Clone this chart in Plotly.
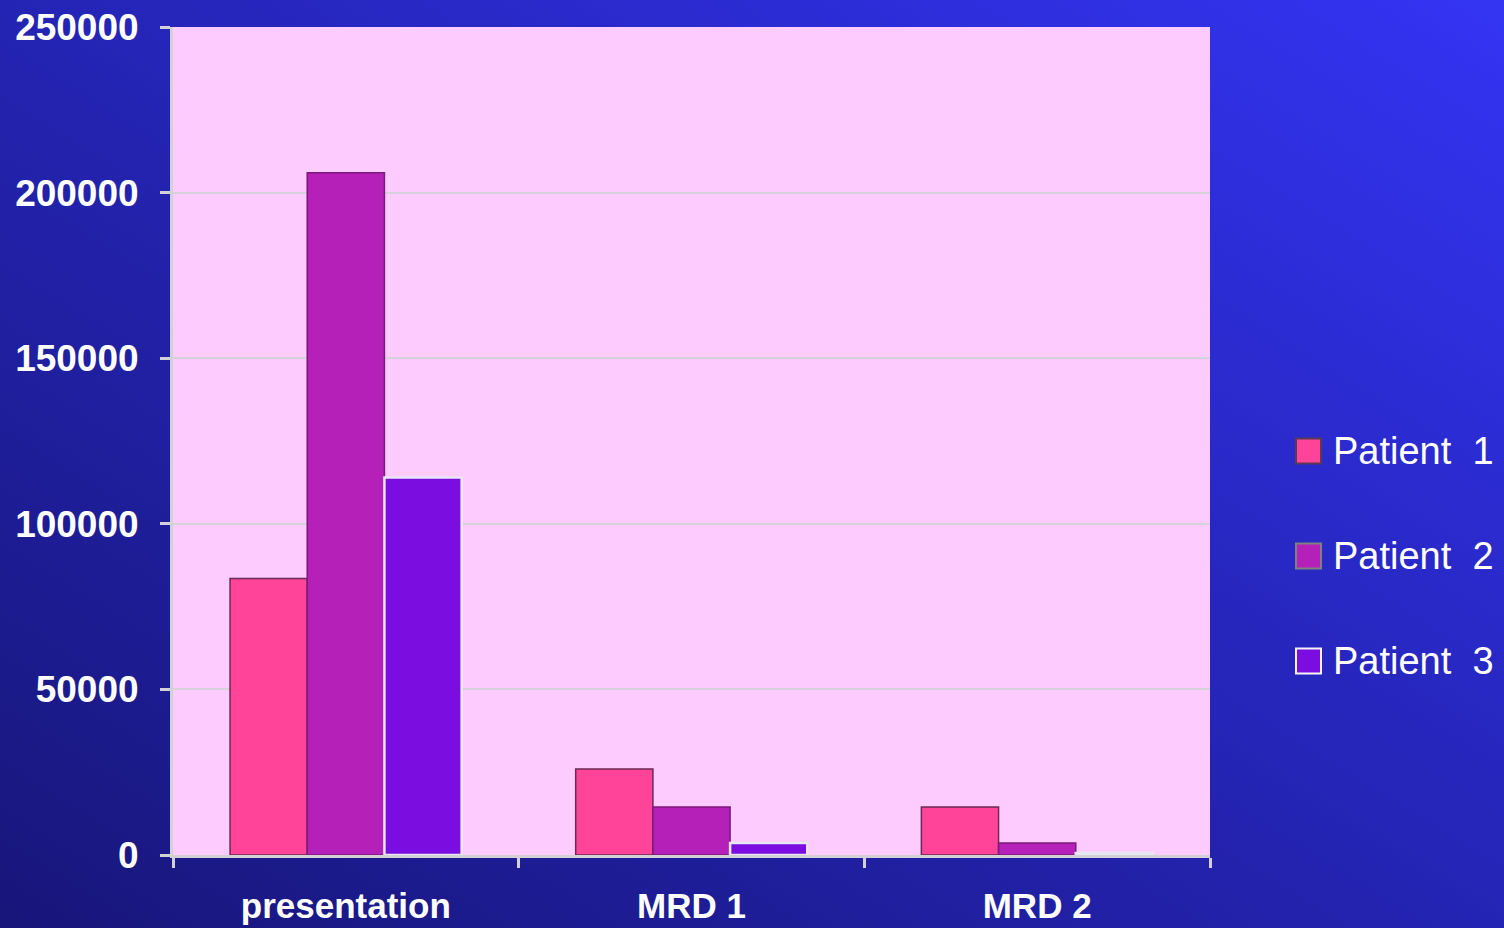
import base64
import plotly.graph_objects as go

# ---- data ----
categories = ["presentation", "MRD 1", "MRD 2"]
patient1 = [83500, 26000, 14500]
patient2 = [206000, 14500, 3600]
patient3 = [114000, 3600, 600]
series_names = ["Patient\u00a0\u00a01", "Patient\u00a0\u00a02", "Patient\u00a0\u00a03"]
y_ticks = [0, 50000, 100000, 150000, 200000, 250000]

colors = ["#ff4499", "#b520b8", "#7b0de0"]
borders = ["#6a2a55", "#7a1a7a", "#e8e8f2"]
border_w = [1.5, 1.5, 2.5]

W, H = 1504, 928
L, R, T, B = 173, 1210, 27, 855


def px(x):
    return (x - L) / (R - L)


def py(y):
    return (B - y) / (B - T)


fig = go.Figure()
for name, vals, c, bc, bw in zip(series_names, [patient1, patient2, patient3], colors, borders, border_w):
    fig.add_trace(go.Bar(
        x=categories, y=vals, name=name,
        marker=dict(color=c, line=dict(color=bc, width=bw)),
        showlegend=False,
    ))

# gradient background image (svg data uri)
svg = (
    f'<svg xmlns="http://www.w3.org/2000/svg" width="{W}" height="{H}">'
    '<defs><linearGradient id="g" x1="0" y1="1" x2="1" y2="0">'
    '<stop offset="0" stop-color="#18167a"/>'
    '<stop offset="0.5" stop-color="#2424b4"/>'
    '<stop offset="1" stop-color="#3434f4"/>'
    '</linearGradient></defs>'
    f'<rect width="{W}" height="{H}" fill="url(#g)"/></svg>'
)
uri = "data:image/svg+xml;base64," + base64.b64encode(svg.encode()).decode()

shapes = [dict(type="rect", xref="paper", yref="paper", x0=0, x1=1, y0=0, y1=1,
               fillcolor="#fdcbfd", line=dict(width=0), layer="below")]
annotations = []
leg_y = [451, 556, 661]
for name, c, bc, yc in zip(series_names, colors, ["#5a3a55", "#808080", "#f4f4f8"], leg_y):
    shapes.append(dict(type="rect", xref="paper", yref="paper",
                       x0=px(1296), x1=px(1321), y0=py(yc + 12.5), y1=py(yc - 12.5),
                       fillcolor=c, line=dict(color=bc, width=2), layer="above"))
    annotations.append(dict(xref="paper", yref="paper", x=px(1331), y=py(yc),
                            xanchor="left", yanchor="middle", text=name, showarrow=False,
                            font=dict(family="Liberation Sans, Arial", size=38, color="white")))

fig.update_layout(
    width=W, height=H,
    margin=dict(l=L, r=W - R, t=T, b=H - B, pad=0, autoexpand=False),
    paper_bgcolor="#2222aa",
    plot_bgcolor="rgba(0,0,0,0)",
    barmode="group", bargap=0.33, bargroupgap=0,
    images=[dict(source=uri, xref="paper", yref="paper",
                 x=px(0), y=py(0), sizex=W / (R - L), sizey=H / (B - T),
                 xanchor="left", yanchor="top", sizing="stretch", layer="below")],
    shapes=shapes,
    annotations=annotations,
    showlegend=False,
)
fig.update_xaxes(
    type="category", showline=True, linecolor="#d2d2d6", linewidth=3,
    ticks="outside", tickson="boundaries", ticklen=10, tickwidth=3, tickcolor="#d2d2d6",
    tickfont=dict(family="Liberation Sans, Arial", size=35, color="white", weight="bold"),
    ticklabelstandoff=18, showgrid=False, automargin=False,
)
fig.update_yaxes(
    range=[0, 250000], tickvals=y_ticks, ticktext=[str(v) for v in y_ticks],
    showline=True, linecolor="#d2d2d6", linewidth=3,
    ticks="outside", ticklen=10, tickwidth=3, tickcolor="#d2d2d6",
    showgrid=True, gridcolor="#d6d2dc", gridwidth=1.5, zeroline=False,
    tickfont=dict(family="Liberation Sans, Arial", size=37, color="white", weight="bold"),
    ticklabelstandoff=14, automargin=False,
)

fig.write_html("out.html")
